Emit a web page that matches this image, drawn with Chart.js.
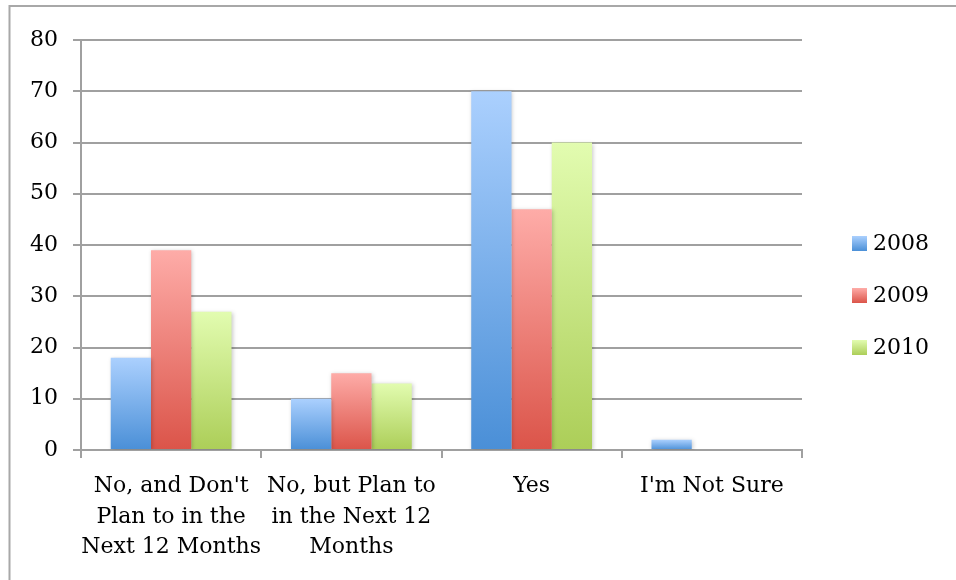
<!DOCTYPE html>
<html>
<head>
<meta charset="utf-8">
<script src="https://cdn.jsdelivr.net/npm/chart.js@4/dist/chart.umd.min.js"></script>
<style>
  html, body { margin: 0; padding: 0; background: #fff; }
  #wrap { width: 956px; height: 580px; position: relative; }
</style>
</head>
<body>
<div id="wrap"><canvas id="planChart"></canvas></div>
<script>
// Catégories (libellés sur plusieurs lignes)
const categories = [
  ["No, and Don't", "Plan to in the", "Next 12 Months"],
  ["No, but Plan to", "in the Next 12", "Months"],
  "Yes",
  "I'm Not Sure"
];

// Valeurs par année
const years = ["2008", "2009", "2010"];
const values2008 = [18, 10, 70, 2];
const values2009 = [39, 15, 47, 0];
const values2010 = [27, 13, 60, 0];

// Graduations de l'axe Y
const yTicks = [0, 10, 20, 30, 40, 50, 60, 70, 80];

// Couleurs des dégradés (haut, bas)
const colors2008 = ['#abd0fe', '#4a8fd7'];
const colors2009 = ['#feaca8', '#db5449'];
const colors2010 = ['#e2fcb0', '#acce58'];

const FONT = 'DejaVu Serif';
const GRID = '#a0a0a0';

// Dégradé vertical pour chaque barre, du sommet vers la base
function barGradient(pair) {
  return (ctx) => {
    const chart = ctx.chart;
    const { chartArea, scales } = chart;
    if (!chartArea || ctx.type !== 'data') return pair[1];
    const top = scales.y.getPixelForValue(ctx.raw);
    const bottom = scales.y.getPixelForValue(0);
    if (bottom - top < 1) return pair[1];
    const g = chart.ctx.createLinearGradient(0, top, 0, bottom);
    g.addColorStop(0, pair[0]);
    g.addColorStop(1, pair[1]);
    return g;
  };
}

// Cadre gris en haut et à gauche
const framePlugin = {
  id: 'frame',
  beforeDraw(chart) {
    const c = chart.ctx;
    c.save();
    c.strokeStyle = '#a8a8a8';
    c.lineWidth = 2;
    c.beginPath();
    c.moveTo(9.5, 580);
    c.lineTo(9.5, 6);
    c.lineTo(956, 6);
    c.stroke();
    c.restore();
  }
};

// Légende à droite avec petits carrés en dégradé
const legendPlugin = {
  id: 'sideLegend',
  afterDraw(chart) {
    const c = chart.ctx;
    const pairs = [colors2008, colors2009, colors2010];
    c.save();
    c.font = '22px "' + FONT + '"';
    c.textBaseline = 'middle';
    chart.data.datasets.forEach((ds, i) => {
      const cy = 243 + i * 52;
      const g = c.createLinearGradient(0, cy - 7, 0, cy + 8);
      g.addColorStop(0, pairs[i][0]);
      g.addColorStop(1, pairs[i][1]);
      c.fillStyle = g;
      c.fillRect(852, cy - 7, 15, 15);
      c.fillStyle = '#000';
      c.fillText(ds.label, 873, cy + 1);
    });
    c.restore();
  }
};

// Légère ombre derrière les barres
const shadowPlugin = {
  id: 'barShadow',
  beforeDatasetsDraw(chart) {
    const c = chart.ctx;
    c.save();
    c.shadowColor = 'rgba(0,0,0,0.22)';
    c.shadowBlur = 4;
    c.shadowOffsetX = 1;
    c.shadowOffsetY = 1;
  },
  afterDatasetsDraw(chart) {
    chart.ctx.restore();
  }
};

const data = {
  labels: categories,
  datasets: [
    { label: years[0], data: values2008, backgroundColor: barGradient(colors2008) },
    { label: years[1], data: values2009, backgroundColor: barGradient(colors2009) },
    { label: years[2], data: values2010, backgroundColor: barGradient(colors2010) }
  ]
};

const config = {
  type: 'bar',
  data: data,
  options: {
    responsive: false,
    animation: false,
    events: [],
    layout: { padding: { top: 40, right: 154, bottom: 0, left: 0 } },
    datasets: {
      bar: { barPercentage: 1, categoryPercentage: 0.67, borderWidth: 0 }
    },
    plugins: {
      legend: { display: false },
      tooltip: { enabled: false }
    },
    scales: {
      y: {
        min: 0,
        max: 80,
        afterFit(scale) { scale.width = 81; },
        afterBuildTicks(scale) { scale.ticks = yTicks.map(v => ({ value: v })); },
        grid: { color: GRID, lineWidth: 2, tickLength: 8 },
        border: { color: GRID, width: 2 },
        ticks: {
          padding: 15,
          color: '#000',
          font: { family: FONT, size: 22 }
        }
      },
      x: {
        afterFit(scale) { scale.height = 130; },
        grid: { drawOnChartArea: false, color: GRID, lineWidth: 2, tickLength: 8, offset: true },
        border: { color: GRID, width: 2 },
        ticks: {
          padding: 13,
          color: '#000',
          maxRotation: 0,
          autoSkip: false,
          font: { family: FONT, size: 22, lineHeight: 1.39 }
        }
      }
    }
  },
  plugins: [framePlugin, shadowPlugin, legendPlugin]
};

const canvas = document.getElementById('planChart');
canvas.width = 956;
canvas.height = 580;
const planChart = new Chart(canvas, config);
</script>
</body>
</html>
